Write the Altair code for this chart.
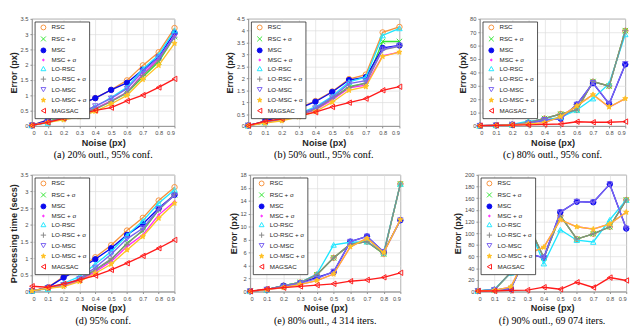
import math
import altair as alt
import pandas as pd

NOISE = [0.0, 0.1, 0.2, 0.3, 0.4, 0.5, 0.6, 0.7, 0.8, 0.9]
SERIES = ["RSC", "RSC + σ", "MSC", "MSC + σ", "LO-RSC", "LO-RSC + σ",
          "LO-MSC", "LO-MSC + σ", "MAGSAC"]
COLORS = ["#f7913b", "#33e633", "#0a0aee", "#ff22ff", "#1ee6ff", "#888888",
          "#7a63f0", "#ffc125", "#ff1a1a"]
FILLS = ["transparent", "transparent", "#0a0aee", "#ff22ff", "transparent",
         "transparent", "transparent", "#ffc125", "transparent"]


def star_path():
    pts = []
    for k in range(10):
        r = 1.0 if k % 2 == 0 else 0.42
        a = math.radians(-90 + 36 * k)
        pts.append(f"{r * math.cos(a):.3f},{r * math.sin(a):.3f}")
    return "M" + "L".join(pts) + "Z"


SHAPES = ["circle",
          "M-1,-1L1,1M-1,1L1,-1",
          "circle",
          "M-0.35,0A0.35,0.35,0,1,1,0.35,0A0.35,0.35,0,1,1,-0.35,0Z",
          "triangle-up",
          "M-1.1,0L1.1,0M0,-1.1L0,1.1",
          "triangle-down",
          star_path(),
          "triangle-left"]

# (a) 20% outliers, error
PANEL_A = {
    "RSC":         [0.03, 0.20, 0.44, 0.71, 0.91, 1.18, 1.49, 1.98, 2.41, 3.20],
    "RSC + σ":     [0.02, 0.15, 0.30, 0.38, 0.55, 0.80, 1.08, 1.60, 2.10, 2.92],
    "MSC":         [0.02, 0.19, 0.46, 0.70, 0.91, 1.18, 1.41, 1.84, 2.26, 3.04],
    "MSC + σ":     [0.02, 0.14, 0.25, 0.40, 0.58, 0.82, 1.10, 1.70, 2.20, 2.95],
    "LO-RSC":      [0.02, 0.10, 0.25, 0.42, 0.63, 0.93, 1.26, 1.86, 2.32, 3.12],
    "LO-RSC + σ":  [0.02, 0.14, 0.27, 0.38, 0.56, 0.80, 1.10, 1.65, 2.15, 2.90],
    "LO-MSC":      [0.02, 0.12, 0.26, 0.42, 0.65, 0.90, 1.22, 1.78, 2.24, 2.93],
    "LO-MSC + σ":  [0.02, 0.12, 0.20, 0.30, 0.48, 0.72, 1.00, 1.52, 1.98, 2.70],
    "MAGSAC":      [0.02, 0.12, 0.25, 0.37, 0.51, 0.60, 0.82, 1.01, 1.26, 1.54],
}
# (b) 50% outliers, error
PANEL_B = {
    "RSC":         [0.02, 0.20, 0.45, 0.75, 1.05, 1.45, 1.97, 2.16, 3.93, 4.16],
    "RSC + σ":     [0.02, 0.15, 0.28, 0.45, 0.70, 1.15, 1.65, 1.80, 3.55, 3.55],
    "MSC":         [0.02, 0.20, 0.45, 0.73, 1.02, 1.43, 1.93, 2.05, 3.28, 3.38],
    "MSC + σ":     [0.02, 0.15, 0.25, 0.45, 0.68, 1.10, 1.60, 1.72, 2.95, 3.10],
    "LO-RSC":      [0.02, 0.15, 0.30, 0.52, 0.80, 1.25, 1.85, 2.05, 3.80, 4.10],
    "LO-RSC + σ":  [0.02, 0.15, 0.27, 0.46, 0.70, 1.15, 1.62, 1.80, 3.20, 3.35],
    "LO-MSC":      [0.02, 0.14, 0.30, 0.50, 0.75, 1.20, 1.78, 1.90, 3.22, 3.38],
    "LO-MSC + σ":  [0.02, 0.12, 0.22, 0.38, 0.60, 1.00, 1.50, 1.65, 2.92, 3.10],
    "MAGSAC":      [0.02, 0.20, 0.30, 0.42, 0.58, 0.80, 0.98, 1.15, 1.50, 1.65],
}
# (c) 80% outliers, error
PANEL_C = {
    "RSC":         [0.2, 0.5, 1.0, 2.5, 5.5, 9.0, 12.0, 33.0, 30.0, 71.0],
    "RSC + σ":     [0.2, 0.5, 1.0, 2.5, 5.6, 8.9, 12.0, 33.2, 29.8, 71.2],
    "MSC":         [0.2, 0.5, 1.0, 2.0, 4.5, 5.5, 16.0, 32.0, 16.5, 46.0],
    "MSC + σ":     [0.2, 0.5, 0.8, 1.5, 2.5, 7.0, 15.0, 23.5, 14.0, 20.5],
    "LO-RSC":      [0.2, 0.5, 1.2, 3.6, 4.5, 6.5, 12.0, 20.5, 31.6, 68.4],
    "LO-RSC + σ":  [0.2, 0.5, 1.0, 2.5, 5.6, 8.9, 12.0, 33.2, 29.8, 71.2],
    "LO-MSC":      [0.2, 0.5, 1.0, 2.0, 4.5, 5.3, 16.0, 32.3, 16.7, 46.3],
    "LO-MSC + σ":  [0.2, 0.5, 0.8, 1.5, 2.5, 7.0, 15.0, 23.4, 14.2, 20.5],
    "MAGSAC":      [0.3, 0.5, 0.7, 0.9, 1.2, 1.5, 3.2, 2.8, 2.8, 3.3],
}
# (d) processing time
PANEL_D = {
    "RSC":         [0.02, 0.12, 0.45, 0.70, 1.03, 1.39, 1.83, 2.21, 2.73, 3.13],
    "RSC + σ":     [0.02, 0.10, 0.20, 0.35, 0.65, 0.95, 1.45, 1.82, 2.45, 2.90],
    "MSC":         [0.02, 0.12, 0.42, 0.68, 0.97, 1.30, 1.70, 2.03, 2.50, 2.90],
    "MSC + σ":     [0.02, 0.10, 0.18, 0.32, 0.60, 0.90, 1.35, 1.70, 2.30, 2.70],
    "LO-RSC":      [0.02, 0.08, 0.25, 0.45, 0.82, 1.20, 1.68, 2.12, 2.65, 3.05],
    "LO-RSC + σ":  [0.02, 0.10, 0.20, 0.35, 0.65, 0.98, 1.42, 1.85, 2.45, 2.92],
    "LO-MSC":      [0.02, 0.10, 0.20, 0.38, 0.72, 1.12, 1.58, 1.90, 2.48, 2.88],
    "LO-MSC + σ":  [0.02, 0.10, 0.15, 0.30, 0.55, 0.82, 1.25, 1.65, 2.20, 2.65],
    "MAGSAC":      [0.16, 0.13, 0.23, 0.35, 0.48, 0.65, 0.85, 1.07, 1.30, 1.55],
}
# (e) 80% outliers, 4 314 iterations
PANEL_E = {
    "RSC":         [0.05, 0.3, 0.9, 1.4, 2.6, 5.2, 7.3, 7.7, 5.8, 16.6],
    "RSC + σ":     [0.05, 0.3, 0.9, 1.4, 2.6, 5.2, 7.3, 7.7, 5.8, 16.6],
    "MSC":         [0.05, 0.3, 0.9, 1.3, 2.2, 3.0, 7.7, 8.5, 6.1, 11.0],
    "MSC + σ":     [0.05, 0.3, 0.6, 1.1, 1.7, 2.7, 6.9, 8.2, 6.0, 11.1],
    "LO-RSC":      [0.05, 0.3, 0.9, 1.4, 2.7, 7.2, 7.6, 7.7, 6.0, 16.6],
    "LO-RSC + σ":  [0.05, 0.3, 0.9, 1.4, 2.6, 5.2, 7.3, 7.7, 5.9, 16.6],
    "LO-MSC":      [0.05, 0.3, 0.8, 1.3, 2.0, 3.1, 7.7, 8.5, 6.1, 11.0],
    "LO-MSC + σ":  [0.05, 0.3, 0.6, 1.1, 1.7, 2.7, 6.9, 8.2, 6.0, 11.1],
    "MAGSAC":      [0.05, 0.4, 0.6, 0.8, 1.0, 1.2, 1.6, 1.8, 2.2, 2.9],
}
# (f) 90% outliers, 69 074 iterations
PANEL_F = {
    "RSC":         [1, 3, 33, 118, 58, 130, 90, 99, 111, 157],
    "RSC + σ":     [1, 3, 33, 118, 58, 130, 90, 99, 111, 157],
    "MSC":         [1, 3, 5, 65, 58, 136, 154, 153, 184, 108],
    "MSC + σ":     [1, 2, 8, 64, 76, 123, 111, 107, 116, 136],
    "LO-RSC":      [1, 4, 32, 118, 48, 106, 88, 85, 123, 157],
    "LO-RSC + σ":  [1, 3, 33, 118, 58, 130, 90, 99, 111, 157],
    "LO-MSC":      [1, 3, 5, 65, 58, 136, 154, 153, 184, 108],
    "LO-MSC + σ":  [1, 2, 8, 64, 76, 123, 111, 107, 116, 136],
    "MAGSAC":      [1, 1, 2, 2.5, 7.5, 4, 16, 7, 24, 19],
}

YTICKS_A = [0, 0.5, 1, 1.5, 2, 2.5, 3, 3.5]
YTICKS_B = [0, 0.5, 1, 1.5, 2, 2.5, 3, 3.5, 4, 4.5]
YTICKS_C = [0, 10, 20, 30, 40, 50, 60, 70, 80]
YTICKS_D = [0, 0.5, 1, 1.5, 2, 2.5, 3, 3.5]
YTICKS_E = [0, 2, 4, 6, 8, 10, 12, 14, 16, 18]
YTICKS_F = [0, 20, 40, 60, 80, 100, 120, 140, 160, 180, 200]

CAPTIONS = ["(a) 20% outl., 95% conf.", "(b) 50% outl., 95% conf.",
            "(c) 80% outl., 95% conf.", "(d) 95% conf.",
            "(e) 80% outl., 4 314 iters.", "(f) 90% outl., 69 074 iters."]

IND = dict(stroke="independent", fill="independent", shape="independent")


def panel(vals, yticks, ytitle, caption, w, h):
    rows = [{"noise": n, "value": v, "series": s}
            for s in SERIES for n, v in zip(NOISE, vals[s])]
    df = pd.DataFrame(rows)
    x = alt.X("noise:Q", title="Noise (px)",
              scale=alt.Scale(domain=[0, 0.9], nice=False, zero=False),
              axis=alt.Axis(values=NOISE, format=".1~f"))
    y = alt.Y("value:Q", title=ytitle,
              scale=alt.Scale(domain=[yticks[0], yticks[-1]], nice=False),
              axis=alt.Axis(values=yticks, format="~r"))
    leg = alt.Legend(title=None)
    stroke = alt.Stroke("series:N", scale=alt.Scale(domain=SERIES, range=COLORS),
                        legend=leg)
    fill = alt.Fill("series:N", scale=alt.Scale(domain=SERIES, range=FILLS),
                    legend=leg)
    shape = alt.Shape("series:N", scale=alt.Scale(domain=SERIES, range=SHAPES),
                      legend=leg)
    layers = []
    for s in SERIES:
        base = alt.Chart(df).transform_filter(
            alt.FieldEqualPredicate(field="series", equal=s)
        ).encode(x=x, y=y)
        layers.append(base.mark_point(size=32, strokeWidth=1, opacity=1).encode(
            stroke=stroke, fill=fill, shape=shape))
        layers.append(base.mark_line(strokeWidth=1.4).encode(stroke=stroke))
    return alt.layer(*layers).properties(
        width=w, height=h, title=alt.Title(caption, orient="bottom"))


pa = panel(PANEL_A, YTICKS_A, "Error (px)", CAPTIONS[0], 149, 112)
pb = panel(PANEL_B, YTICKS_B, "Error (px)", CAPTIONS[1], 158, 112)
pc = panel(PANEL_C, YTICKS_C, "Error (px)", CAPTIONS[2], 152, 112)
pd_ = panel(PANEL_D, YTICKS_D, "Processing time (secs)", CAPTIONS[3], 149, 122)
pe = panel(PANEL_E, YTICKS_E, "Error (px)", CAPTIONS[4], 157, 122)
pf = panel(PANEL_F, YTICKS_F, "Error (px)", CAPTIONS[5], 155, 122)


def hc(a, b, spacing):
    return alt.hconcat(a, b, spacing=spacing).resolve_scale(**IND).resolve_legend(**IND)


top = hc(pa, hc(pb, pc, 54), 46)
bottom = hc(pd_, hc(pe, pf, 48), 49)

chart = alt.vconcat(top, bottom, spacing=10).resolve_scale(**IND).resolve_legend(
    **IND
).properties(
    padding=0
).configure(
    padding=0
).configure_view(
    stroke="#8c8c8c", strokeWidth=0.8
).configure_axis(
    labelFont="Liberation Sans", labelFontSize=6, labelColor="#4d4d4d",
    titleFont="Liberation Sans", titleFontSize=9.5, titleFontWeight="bold",
    titleColor="#262626", domainColor="#8c8c8c", domainWidth=0.8,
    tickColor="#8c8c8c", tickSize=2, labelPadding=2, titlePadding=2,
    gridColor="#dddddd", gridWidth=0.7
).configure_legend(
    orient="top-left", offset=3, padding=2.5, fillColor="white",
    strokeColor="#222222", strokeWidth=0.8, labelFont="Liberation Sans",
    labelFontSize=6.5, labelColor="#222222", symbolSize=26,
    symbolStrokeWidth=1, rowPadding=1, labelOffset=5, symbolOffset=3
).configure_title(
    font="Liberation Serif", fontSize=10.5, fontWeight="normal", color="black",
    anchor="middle", offset=4
)

chart.save("out.html", embed_options={"renderer": "svg", "actions": False})
